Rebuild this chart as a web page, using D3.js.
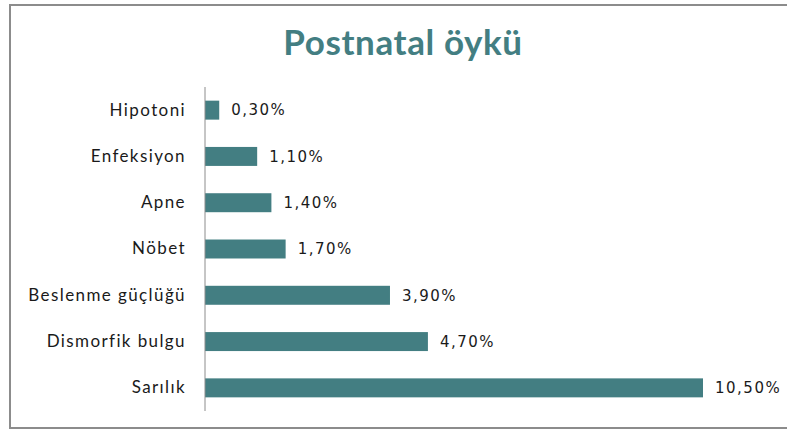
<!DOCTYPE html>
<html>
<head>
  <meta charset="utf-8">
  <script src="https://cdn.jsdelivr.net/npm/d3@7"></script>
  <style>
    body { margin: 0; background: #fff; }
  </style>
</head>
<body>
  <div id="chart"></div>
  <script>
    // ========= Data ========= //
    const categories = ['Hipotoni', 'Enfeksiyon', 'Apne', 'Nöbet', 'Beslenme güçlüğü', 'Dismorfik bulgu', 'Sarılık'];
    const values = [0.3, 1.1, 1.4, 1.7, 3.9, 4.7, 10.5];
    const valueLabels = ['0,30%', '1,10%', '1,40%', '1,70%', '3,90%', '4,70%', '10,50%'];
    const title = 'Postnatal öykü';

    const width = 787;
    const height = 432;
    const barColor = '#437e82';

    const svg = d3.select('#chart').append('svg')
      .attr('width', width)
      .attr('height', height);

    // ========= Frame ========= //
    svg.append('path')
      .attr('d', `M${width + 5},5 H10 V428 H${width + 5}`)
      .attr('fill', 'none')
      .attr('stroke', '#8c8c8c')
      .attr('stroke-width', 2);

    // ========= Title ========= //
    svg.append('text')
      .attr('x', 403)
      .attr('y', 55)
      .attr('text-anchor', 'middle')
      .attr('font-family', 'Lato, sans-serif')
      .attr('font-weight', 'bold')
      .attr('font-size', 35)
      .attr('letter-spacing', 0.6)
      .attr('fill', '#437e82')
      .text(title);

    // ========= Scales ========= //
    const x = d3.scaleLinear().domain([0, 10.5]).range([205, 703]);
    const y = d3.scaleBand().domain(categories).range([87, 411]).paddingInner(0.59).paddingOuter(0.295);

    // ========= Bars ========= //
    svg.append('g').selectAll('rect')
      .data(values)
      .join('rect')
        .attr('x', x(0))
        .attr('y', (d, i) => y(categories[i]))
        .attr('width', d => x(d) - x(0))
        .attr('height', y.bandwidth())
        .attr('fill', barColor);

    // ========= Axis ========= //
    const axis = svg.append('g')
      .attr('transform', `translate(${x(0)},0)`)
      .call(d3.axisLeft(y).tickSize(0).tickPadding(19));
    axis.select('.domain')
      .attr('d', 'M0,87V411')
      .attr('stroke', '#8c8c8c');
    axis.selectAll('.tick text')
      .attr('font-family', 'Lato, sans-serif')
      .attr('font-size', 17)
      .attr('letter-spacing', 1.4)
      .attr('fill', '#1a1a1a');

    // ========= Value labels ========= //
    svg.append('g').selectAll('text')
      .data(values)
      .join('text')
        .attr('x', d => x(d) + 12)
        .attr('y', (d, i) => y(categories[i]) + y.bandwidth() / 2)
        .attr('dy', '0.35em')
        .attr('font-family', 'DejaVu Sans, sans-serif')
        .attr('font-size', 15)
        .attr('letter-spacing', 1.5)
        .attr('fill', '#1a1a1a')
        .text((d, i) => valueLabels[i]);
  </script>
</body>
</html>
